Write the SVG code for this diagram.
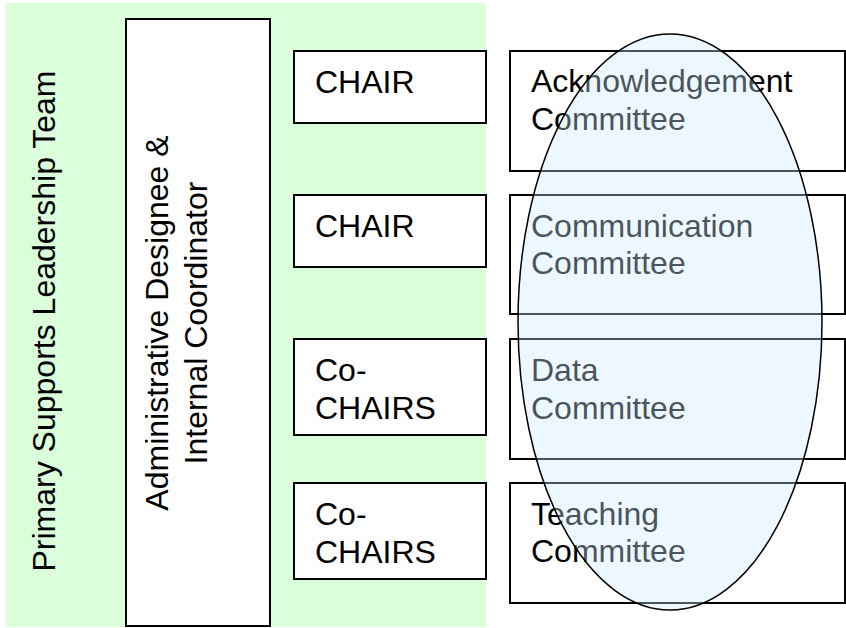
<svg xmlns="http://www.w3.org/2000/svg" width="846" height="628" viewBox="0 0 846 628">
<style>
.t{font-family:"Liberation Sans",Arial,sans-serif;font-size:32px;fill:#000}
.box{fill:#fff;stroke:#000;stroke-width:2}
</style>
<rect width="846" height="628" fill="#fff"/>
<g id="team">
<rect x="6" y="3" width="480" height="624" fill="#dbfedb"/>
<text class="t" transform="translate(55,321) rotate(-90)" text-anchor="middle">Primary Supports Leadership Team</text>
</g>
<g id="admin">
<rect class="box" x="126" y="19" width="144" height="607"/>
<text class="t" transform="translate(168,323) rotate(-90)" text-anchor="middle">Administrative Designee &amp;</text>
<text class="t" transform="translate(207,323) rotate(-90)" text-anchor="middle">Internal Coordinator</text>
</g>
<g id="chair1">
<rect class="box" x="294" y="51" width="192" height="72"/>
<text class="t" x="315" y="93">CHAIR</text>
</g>
<g id="chair2">
<rect class="box" x="294" y="195" width="192" height="72"/>
<text class="t" x="315" y="237">CHAIR</text>
</g>
<g id="cochairs1">
<rect class="box" x="294" y="339" width="192" height="96"/>
<text class="t" x="315" y="381">Co-</text>
<text class="t" x="315" y="419">CHAIRS</text>
</g>
<g id="cochairs2">
<rect class="box" x="294" y="483" width="192" height="96"/>
<text class="t" x="315" y="525">Co-</text>
<text class="t" x="315" y="563">CHAIRS</text>
</g>
<g id="ack">
<rect class="box" x="510" y="51" width="335" height="120"/>
<text class="t" x="531" y="92">Acknowledgement</text>
<text class="t" x="531" y="130">Committee</text>
</g>
<g id="comm">
<rect class="box" x="510" y="195" width="335" height="119"/>
<text class="t" x="531" y="237">Communication</text>
<text class="t" x="531" y="274">Committee</text>
</g>
<g id="data">
<rect class="box" x="510" y="339" width="335" height="120"/>
<text class="t" x="531" y="381">Data</text>
<text class="t" x="531" y="419">Committee</text>
</g>
<g id="teach">
<rect class="box" x="510" y="483" width="335" height="120"/>
<text class="t" x="531" y="525">Teaching</text>
<text class="t" x="531" y="562">Committee</text>
</g>
<g id="oval">
<ellipse cx="670" cy="322" rx="152" ry="288" fill="#cee8ff" fill-opacity="0.36" stroke="#000" stroke-width="1.5"/>
</g>
</svg>
